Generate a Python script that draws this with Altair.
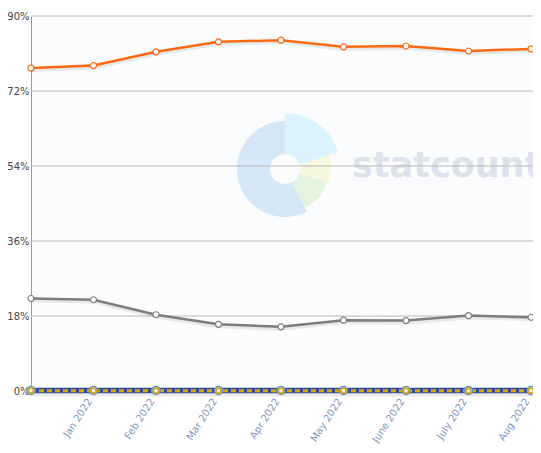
import altair as alt
import pandas as pd

# ---- data ----
month_labels = ["Dec 2021", "Jan 2022", "Feb 2022", "Mar 2022", "Apr 2022",
                "May 2022", "June 2022", "July 2022", "Aug 2022", "Sep 2022"]
shown_ticks = [1, 2, 3, 4, 5, 6, 7, 8]
orange_vals = [77.5, 78.1, 81.4, 83.8, 84.2, 82.6, 82.8, 81.6, 82.1, 81.9]
gray_vals = [22.2, 21.9, 18.3, 16.0, 15.4, 17.0, 16.9, 18.1, 17.7, 17.4]
blue_vals = [0.12, 0.12, 0.12, 0.12, 0.12, 0.12, 0.12, 0.12, 0.12, 0.12]
yellow_vals = [0.08, 0.08, 0.08, 0.08, 0.08, 0.08, 0.08, 0.08, 0.08, 0.08]
y_ticks = [0, 18, 36, 54, 72, 90]
grid_vals = [18, 36, 54, 72, 90]

series = {"orange": orange_vals, "gray": gray_vals, "blue": blue_vals, "yellow": yellow_vals}
rows = []
for name, vals in series.items():
    for i, v in enumerate(vals):
        rows.append({"idx": i, "month": month_labels[i], "series": name, "value": v})
df = pd.DataFrame(rows)
grid_df = pd.DataFrame({"g": grid_vals})

PLOT_W, PLOT_H = 502, 375
x_dom = [0, PLOT_W / 62.5]

label_arr = "[" + ",".join("'%s'" % m for m in month_labels) + "]"
x_axis = alt.Axis(values=shown_ticks, labelExpr=label_arr + "[datum.value]",
                  labelAngle=-57, labelAlign="right", labelBaseline="middle",
                  labelOffset=-4,
                  labelColor="#8497c0", labelFont="DejaVu Sans", labelFontSize=10,
                  labelPadding=8, ticks=False, grid=False, domainColor="#999999",
                  title=None, labelOverlap=False)
y_axis = alt.Axis(values=y_ticks, labelExpr="datum.value + '%'", labelColor="#444444",
                  labelFont="DejaVu Sans", labelFontSize=10, labelPadding=2,
                  ticks=False, grid=False, domainColor="#999999", title=None)

X = alt.X("idx:Q", scale=alt.Scale(domain=x_dom, nice=False, zero=False), axis=x_axis)
Y = alt.Y("value:Q", scale=alt.Scale(domain=[0, 90], nice=False), axis=y_axis)
Ys = alt.Y("shadow:Q", scale=alt.Scale(domain=[0, 90], nice=False), axis=y_axis)

one = alt.Data(values=[{"k": 1}])
cx, cy = 254, 153
logo = []
for t0, t1, r, col in [(0.0, 1.27, 56, "#dcf2fc"), (1.27, 1.87, 46, "#f5f8de"),
                       (1.87, 2.67, 44, "#e4f3e0"), (2.67, 6.2832, 48, "#d5e7f7")]:
    logo.append(alt.Chart(one).mark_arc(theta=t0, theta2=t1, radius=r, radius2=15,
                                        color=col).encode(x=alt.value(cx), y=alt.value(cy)))
wm_text = alt.Chart(one).mark_text(text="statcounter", font="DejaVu Sans", fontWeight="bold",
                                   fontSize=35, color="#dde2ec", align="left",
                                   baseline="alphabetic").encode(x=alt.value(321), y=alt.value(161))

grid = alt.Chart(grid_df).mark_rule(color="#b9b9b9", strokeWidth=1).encode(
    y=alt.Y("g:Q", scale=alt.Scale(domain=[0, 90], nice=False), axis=y_axis))

base = alt.Chart(df)


def series_layers(name, color, width, dash=None, shadow=True, sh_off=0.45):
    b = base.transform_filter(alt.datum.series == name)
    layers = []
    if shadow:
        layers.append(b.transform_calculate(shadow="datum.value - %f" % sh_off).mark_line(
            color="#000000", opacity=0.08, strokeWidth=width + 1.5).encode(x=X, y=Ys))
    kw = {}
    if dash:
        kw["strokeDash"] = dash
    layers.append(b.mark_line(color=color, strokeWidth=width, **kw).encode(x=X, y=Y))
    return layers


layers = logo + [wm_text, grid]
layers += series_layers("gray", "#7d7d7d", 2.5)
layers += series_layers("orange", "#fa6a12", 2.5)
layers += series_layers("blue", "#30509e", 5.5, sh_off=0.6)
layers += series_layers("yellow", "#d6a512", 3, dash=[5, 3], shadow=False)

pts = []
for name, stroke, size, sw in [("gray", "#7d7d7d", 36, 1.2), ("orange", "#fa6a12", 36, 1.2),
                               ("blue", "#5f8fd6", 64, 1.5), ("yellow", "#d6a512", 26, 1.8)]:
    pts.append(base.transform_filter(alt.datum.series == name).mark_point(
        filled=True, fill="white", stroke=stroke, strokeWidth=sw, size=size, opacity=1
    ).encode(x=X, y=Y))

chart = alt.layer(*(layers + pts)).properties(
    width=PLOT_W, height=PLOT_H,
    autosize=alt.AutoSizeParams(type="none"),
    padding={"left": 23, "top": 8, "right": 0, "bottom": 53},
    background="white",
).configure_view(fill="#fbfcfe", stroke=None)

chart.save("out.html", embed_options={"renderer": "svg", "actions": False})
